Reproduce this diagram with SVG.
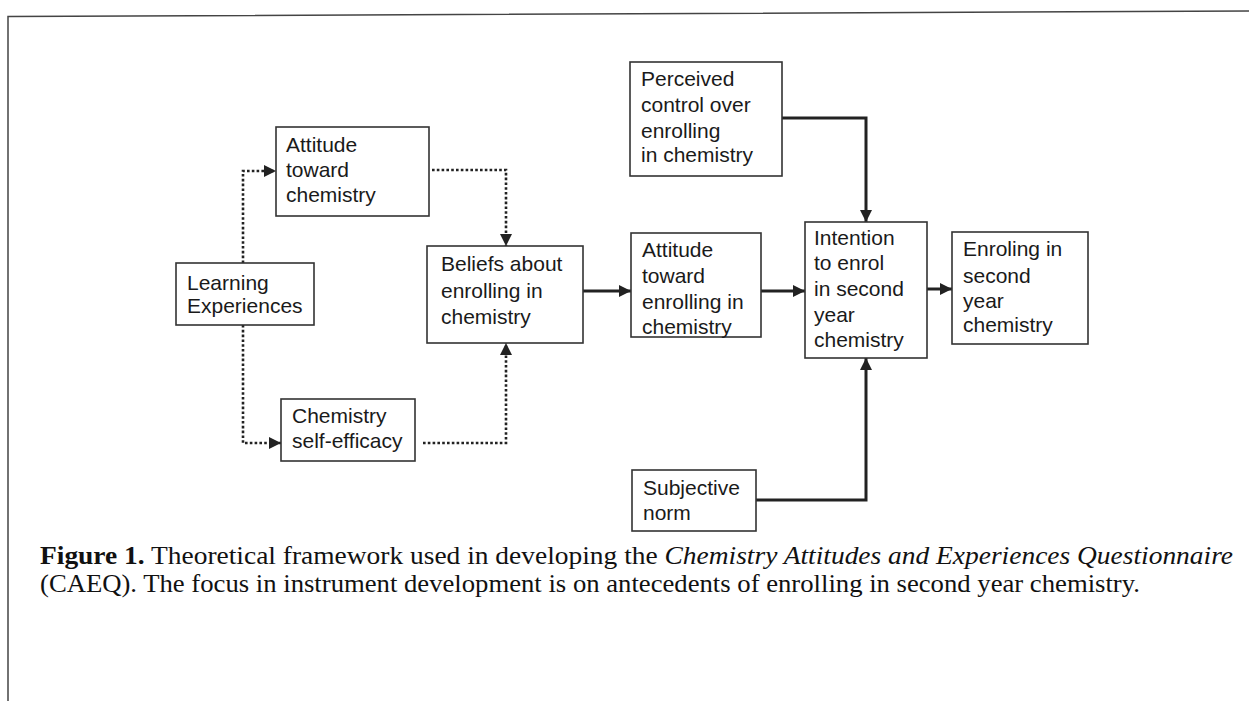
<svg xmlns="http://www.w3.org/2000/svg" width="1249" height="701" viewBox="0 0 1249 701">
<style>
.box{fill:#fff;stroke:#333;stroke-width:1.6}
.lbl{font-family:"Liberation Sans",Arial,sans-serif;font-size:21px;fill:#1a1a1a}
.dot{fill:none;stroke:#222;stroke-width:2.6;stroke-dasharray:2.6 2.2}
.sol{fill:none;stroke:#222;stroke-width:3}
.cap{font-family:"Liberation Serif","Times New Roman",serif;font-size:26px;fill:#111}
</style>
<defs>
<marker id="ah" viewBox="0 0 10 10" refX="10" refY="5" markerWidth="12" markerHeight="12" markerUnits="userSpaceOnUse" orient="auto">
<path d="M0,0 L10,5 L0,10 z" fill="#222"/>
</marker>
</defs>
<rect width="1249" height="701" fill="#fff"/>
<g id="frame" fill="none" stroke="#444" stroke-width="1.5">
<path d="M8,701 V16.5 L1249,11"/>
</g>
<g id="connectors">
<path class="dot" d="M243,263 V171 H276" marker-end="url(#ah)"/>
<path class="dot" d="M243,325 V443 H281" marker-end="url(#ah)"/>
<path class="dot" d="M432,170 H506 V246" marker-end="url(#ah)"/>
<path class="dot" d="M423,443 H506 V343" marker-end="url(#ah)"/>
<path class="sol" d="M583,291 H631" stroke-width="2.6" marker-end="url(#ah)"/>
<path class="sol" d="M761,291 H805" stroke-width="4" marker-end="url(#ah)"/>
<path class="sol" d="M927,289 H952" stroke-width="3.6" marker-end="url(#ah)"/>
<path class="sol" d="M782,118 H866 V222" stroke-width="3.4" marker-end="url(#ah)"/>
<path class="sol" d="M756,500 H866 V358" stroke-width="3.4" marker-end="url(#ah)"/>
</g>
<g id="attitude-chem">
<rect class="box" x="276" y="127" width="153" height="89"/>
<text class="lbl"><tspan x="286" y="152">Attitude</tspan><tspan x="286" y="177">toward</tspan><tspan x="286" y="202">chemistry</tspan></text>
</g>
<g id="learning">
<rect class="box" x="176" y="263" width="138" height="62"/>
<text class="lbl"><tspan x="187" y="290">Learning</tspan><tspan x="187" y="313">Experiences</tspan></text>
</g>
<g id="self-efficacy">
<rect class="box" x="281" y="399" width="134" height="62"/>
<text class="lbl"><tspan x="292" y="423">Chemistry</tspan><tspan x="292" y="448">self-efficacy</tspan></text>
</g>
<g id="beliefs">
<rect class="box" x="427" y="246" width="156" height="97"/>
<text class="lbl"><tspan x="441" y="271">Beliefs about</tspan><tspan x="441" y="298">enrolling in</tspan><tspan x="441" y="324">chemistry</tspan></text>
</g>
<g id="attitude-enrol">
<rect class="box" x="631" y="233" width="130" height="104"/>
<text class="lbl"><tspan x="642" y="257">Attitude</tspan><tspan x="642" y="283">toward</tspan><tspan x="642" y="309">enrolling in</tspan><tspan x="642" y="334">chemistry</tspan></text>
</g>
<g id="perceived">
<rect class="box" x="630" y="62" width="152" height="114"/>
<text class="lbl"><tspan x="641" y="86">Perceived</tspan><tspan x="641" y="112">control over</tspan><tspan x="641" y="138">enrolling</tspan><tspan x="641" y="162">in chemistry</tspan></text>
</g>
<g id="intention">
<rect class="box" x="805" y="222" width="122" height="136"/>
<text class="lbl"><tspan x="814" y="245">Intention</tspan><tspan x="814" y="270">to enrol</tspan><tspan x="814" y="296">in second</tspan><tspan x="814" y="322">year</tspan><tspan x="814" y="347">chemistry</tspan></text>
</g>
<g id="enroling">
<rect class="box" x="952" y="232" width="136" height="112"/>
<text class="lbl"><tspan x="963" y="256">Enroling in</tspan><tspan x="963" y="283">second</tspan><tspan x="963" y="308">year</tspan><tspan x="963" y="332">chemistry</tspan></text>
</g>
<g id="subjective">
<rect class="box" x="632" y="470" width="124" height="61"/>
<text class="lbl"><tspan x="643" y="495">Subjective</tspan><tspan x="643" y="520">norm</tspan></text>
</g>
<g id="caption">
<text class="cap" x="40" y="564" textLength="1193" lengthAdjust="spacingAndGlyphs"><tspan font-weight="bold">Figure 1.</tspan>  Theoretical framework used in developing the <tspan font-style="italic">Chemistry Attitudes and Experiences Questionnaire</tspan></text>
<text class="cap" x="40" y="592" textLength="1100" lengthAdjust="spacingAndGlyphs">(CAEQ). The focus in instrument development is on antecedents of enrolling in second year chemistry.</text>
</g>
</svg>
